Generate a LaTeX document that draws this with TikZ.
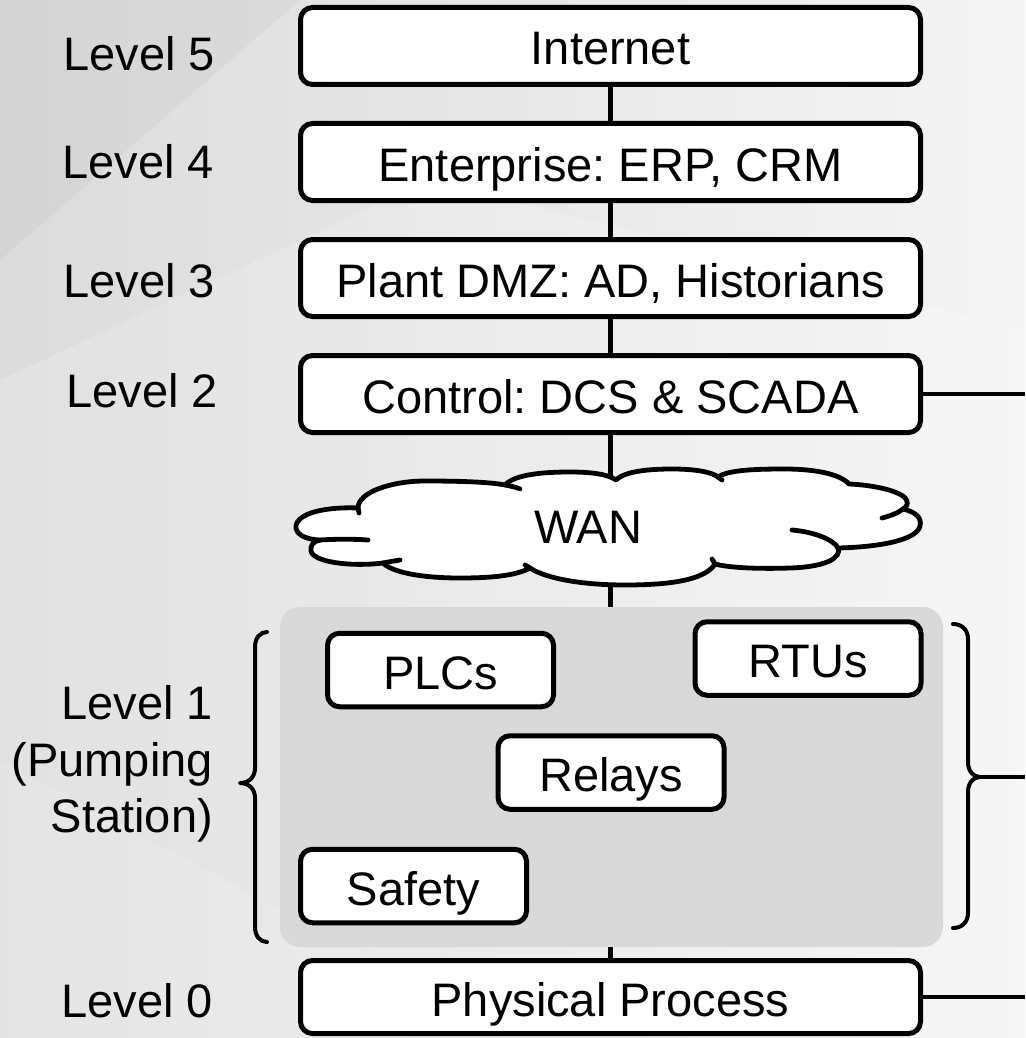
\documentclass[tikz,border=0pt]{standalone}
\usepackage{fontspec}
\setmainfont{Liberation Sans}
\definecolor{zonefill}{HTML}{D9D9D9}
\frenchspacing
\begin{document}
\begin{tikzpicture}[x=1pt,y=-1pt,
  lbl/.style={font=\fontsize{47}{56.5}\selectfont, inner sep=0pt},
  box/.style={lbl, draw, line width=5pt, rounded corners=12pt, fill=white,
              text height=38pt, text depth=0pt},
  widebox/.style={box, minimum width=620pt, minimum height=77pt},
  unitbox/.style={box, minimum width=226pt, minimum height=73.5pt},
  link/.style={line width=4.5pt},
  bracket/.style={line width=4pt, line cap=round, line join=round},
  outline/.style={line width=4.8pt, line join=round, line cap=round}]

% page and soft background
\useasboundingbox (0,0) rectangle (1025,1038);
\shade[left color=black!14, right color=black!4] (0,0) rectangle (1025,1038);
\fill[white, opacity=0.18] (0,380) -- (430,180) -- (1025,330) -- (1025,1038) -- (0,1038) -- cycle;
\fill[white, opacity=0.12] (0,760) -- (520,1038) -- (0,1038) -- cycle;
\fill[black, opacity=0.03] (0,0) -- (300,0) -- (0,260) -- cycle;

% level 1 zone
\node[fill=zonefill, rounded corners=20pt, minimum width=663pt, minimum height=340pt,
      inner sep=0pt] (station) at (611.5,777) {};

% level boxes
\node[widebox] (inet) at (610.5,46) {Internet};
\node[widebox] (ent) at (610.5,162) {Enterprise: ERP, CRM};
\node[widebox] (dmz) at (610.5,278) {Plant DMZ: AD, Historians};
\node[widebox] (ctrl) at (610.5,394) {Control: DCS \& SCADA};
\node[widebox, minimum height=73pt] (phys) at (610.5,997) {Physical Process};

% field devices
\node[unitbox] (plc) at (440.5,670) {PLCs};
\node[unitbox] (rtu) at (808,658.5) {RTUs};
\node[unitbox] (relay) at (611,772.5) {Relays};
\node[unitbox] (safety) at (413.5,886) {Safety};

% level labels
\node[lbl, anchor=base east] (lv5) at (215,71) {Level 5};
\node[lbl, anchor=base east] (lv4) at (214,178) {Level 4};
\node[lbl, anchor=base east] (lv3) at (215,297) {Level 3};
\node[lbl, anchor=base east] (lv2) at (218,407) {Level 2};
\node[lbl, anchor=east, align=right] (lv1) at (213,764) {Level 1\\(Pumping\\Station)};
\node[lbl, anchor=base east] (lv0) at (213,1017) {Level 0};

% vertical links
\coordinate (cloudN) at (610.5,484);
\coordinate (cloudS) at (610.5,582);
\draw[link] (inet) -- (ent);
\draw[link] (ent) -- (dmz);
\draw[link] (dmz) -- (ctrl);
\draw[link] (ctrl) -- (cloudN);
\draw[link] (cloudS) -- (cloudS |- station.north);
\draw[link] (phys.north |- station.south) -- (phys);

% WAN cloud
\draw[outline, fill=white]
  (320,540) .. controls (296,539) and (291,527) .. (300,519)
            .. controls (310,510) and (335,507) .. (358,508)
            .. controls (358,492) and (392,481) .. (425,481)
            .. controls (460,481) and (490,482) .. (505,485)
            .. controls (515,474) and (545,472) .. (570,472)
            .. controls (590,472) and (608,474) .. (616,480)
            .. controls (625,471) and (650,469) .. (672,469)
            .. controls (695,469) and (712,472) .. (718,477)
            .. controls (728,470) and (755,469) .. (785,469)
            .. controls (815,469) and (840,474) .. (849,484)
            .. controls (875,485) and (905,492) .. (907,501)
            .. controls (908,505) and (906,507) .. (903,509)
            .. controls (916,512) and (922,518) .. (920,526)
            .. controls (917,540) and (880,547) .. (838,548)
            .. controls (842,558) and (825,567) .. (790,568)
            .. controls (760,569) and (730,568) .. (715,564)
            .. controls (705,580) and (670,585) .. (625,585)
            .. controls (580,585) and (545,578) .. (530,568)
            .. controls (515,576) and (490,578) .. (460,578)
            .. controls (420,578) and (392,572) .. (383,563)
            .. controls (350,567) and (313,562) .. (311,551)
            .. controls (310,545) and (314,541) .. (320,540) -- cycle;
% inner folds of the cloud
\draw[outline]
  (505,485) .. controls (510,486) and (516,487) .. (520,489)
  (358,508) -- (359,513)
  (718,477) -- (722,480)
  (903,509) .. controls (898,513) and (890,516) .. (882,518)
  (838,548) .. controls (834,540) and (815,532) .. (792,530)
  (715,564) -- (712,559)
  (530,568) -- (525,565)
  (383,563) .. controls (388,562) and (394,561) .. (400,560)
  (320,540) .. controls (335,539) and (355,539) .. (368,540);
\node[lbl, text height=38pt, text depth=0pt] (wan) at (588,524) {WAN};

% braces around the level 1 zone
\coordinate (rtip) at (980,777);
\draw[bracket] (953,624) .. controls (962,624) and (968,630) .. (968,639) -- (968,762)
  .. controls (968,771) and (973,777) .. (rtip)
  .. controls (973,777) and (968,783) .. (968,792) -- (968,913)
  .. controls (968,922) and (962,928) .. (953,928);
\draw[bracket] (267,632) .. controls (260,632) and (255,638) .. (255,647) -- (255,768)
  .. controls (255,777) and (249,783) .. (240,783)
  .. controls (249,783) and (255,789) .. (255,798) -- (255,927)
  .. controls (255,936) and (260,942) .. (267,942);

% links leaving on the right
\coordinate (rim2) at (1025,394);
\coordinate (rim1) at (1025,777);
\coordinate (rim0) at (1025,997);
\draw[link] (ctrl.east) -- (rim2);
\draw[link] (rtip) -- (rim1);
\draw[link] (phys.east) -- (rim0);
\end{tikzpicture}
\end{document}
